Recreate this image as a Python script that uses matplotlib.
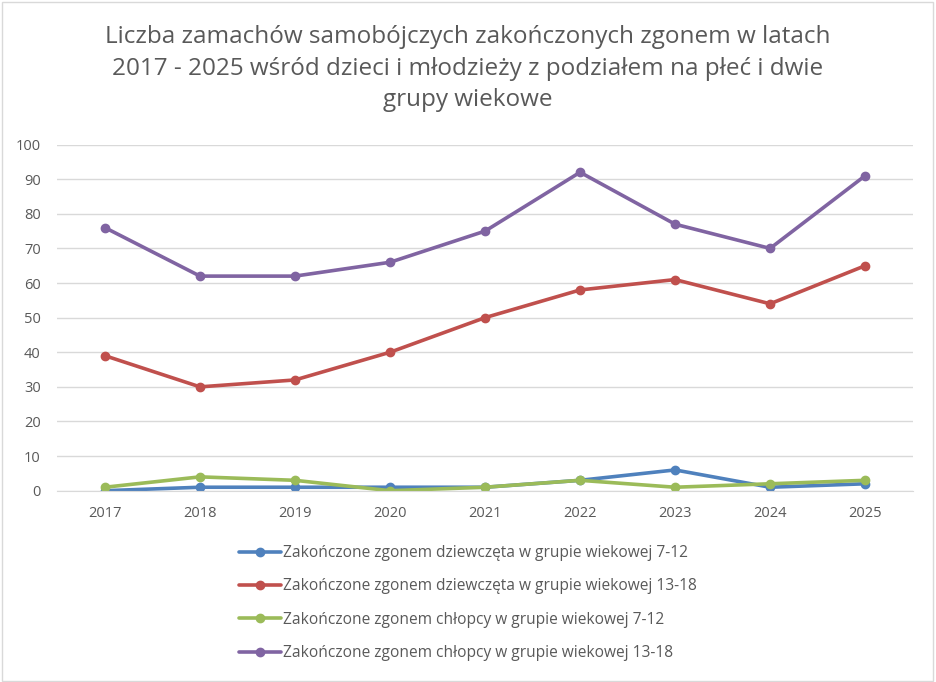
import matplotlib.pyplot as plt
from matplotlib.patches import Rectangle

years = ["2017", "2018", "2019", "2020", "2021", "2022", "2023", "2024", "2025"]
girls_7_12 = [0, 1, 1, 1, 1, 3, 6, 1, 2]
girls_13_18 = [39, 30, 32, 40, 50, 58, 61, 54, 65]
boys_7_12 = [1, 4, 3, 0, 1, 3, 1, 2, 3]
boys_13_18 = [76, 62, 62, 66, 75, 92, 77, 70, 91]

labels = [
    "Zakończone zgonem dziewczęta w grupie wiekowej 7-12",
    "Zakończone zgonem dziewczęta w grupie wiekowej 13-18",
    "Zakończone zgonem chłopcy w grupie wiekowej 7-12",
    "Zakończone zgonem chłopcy w grupie wiekowej 13-18",
]
colors = ["#4F81BD", "#C0504D", "#9BBB59", "#8064A2"]
title = ("Liczba zamachów samobójczych zakończonych zgonem w latach\n"
         "2017 - 2025 wśród dzieci i młodzieży z podziałem na płeć i dwie\n"
         "grupy wiekowe")

plt.rcParams['font.family'] = ['Open Sans', 'DejaVu Sans']
text_gray = "#595959"

fig = plt.figure(figsize=(9.36, 6.82), dpi=100)
fig.patches.append(Rectangle((0.002, 0.002), 0.995, 0.995, transform=fig.transFigure,
                             fill=False, edgecolor="#D9D9D9", linewidth=1))
ax = fig.add_axes([0.0614, 0.2805, 0.9136, 0.5075])

x = range(len(years))
series = [girls_7_12, girls_13_18, boys_7_12, boys_13_18]
handles = []
for vals, col, lab in zip(series, colors, labels):
    h, = ax.plot(x, vals, color=col, linewidth=2.6, marker="o", markersize=6,
                 label=lab, solid_capstyle="round")
    handles.append(h)

ax.set_xlim(-0.5, len(years) - 0.5)
ax.set_ylim(0, 100)
ax.set_yticks(range(0, 101, 10))
ax.set_xticks(list(x))
ax.set_xticklabels(years)
ax.grid(axis="y", color="#D9D9D9", linewidth=1)
ax.set_axisbelow(True)
for s in ["left", "right", "top"]:
    ax.spines[s].set_visible(False)
ax.spines["bottom"].set_color("#D9D9D9")
ax.tick_params(length=0, colors=text_gray, labelsize=10.5)
ax.tick_params(axis="x", pad=11)
ax.tick_params(axis="y", pad=12)

fig.text(0.5, 0.963, title, ha="center", va="top", fontsize=17.5, color=text_gray,
         linespacing=1.42)

fig.legend(handles=handles, loc="upper left", bbox_to_anchor=(0.249, 0.21),
           frameon=False, fontsize=11.2, labelcolor=text_gray, handlelength=2.7,
           handletextpad=0.12, labelspacing=1.12, borderaxespad=0)

fig.savefig("out.png", dpi=100)
